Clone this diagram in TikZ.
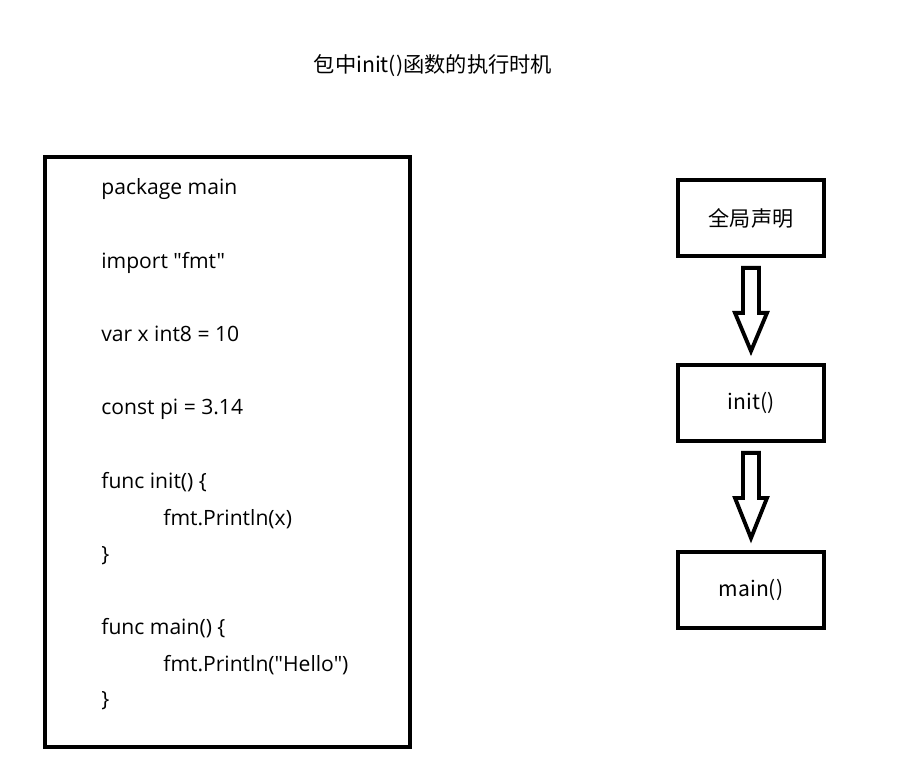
\documentclass[tikz,border=0pt]{standalone}
\usepackage{fontspec}
\setmainfont{Open Sans}[Ligatures=TeXOff]
\newfontfamily\cjk{Noto Sans CJK SC}[Ligatures=TeXOff]
\usetikzlibrary{calc}

\tikzset{
	box/.style={draw, line width=2.2pt, minimum width=2.92cm, minimum height=1.52cm, inner sep=0pt, font=\cjk\fontsize{12pt}{14pt}\selectfont},
	code/.style={anchor=west, inner sep=0pt, text height=1.5ex, text depth=0.4ex},
	blockarrow/.style={draw, line width=2.2pt, fill=white}
}

\begin{document}
\begin{tikzpicture}[font=\fontsize{12pt}{14pt}\selectfont]
	\useasboundingbox (0,0) rectangle (18.46,-15.36);

	\node[font=\cjk\fontsize{12.1pt}{14pt}\selectfont] (title) at (8.66,-1.32) {包中init()函数的执行时机};

	% source file
	\draw[line width=2.2pt] (0.9,-3.14) rectangle (8.2,-14.94);
	\node[code] (pkg) at (2.02,-3.78) {package main};
	\node[code] (imp) at (2.02,-5.26) {import "fmt"};
	\node[code] (var) at (2.02,-6.72) {var x int8 = 10};
	\node[code] (const) at (2.02,-8.18) {const pi = 3.14};
	\node[code] (initfn) at (2.02,-9.66) {func init() \{};
	\node[code] (initbody) at (3.26,-10.40) {fmt.Println(x)};
	\node[code] (initend) at (2.02,-11.12) {\}};
	\node[code] (mainfn) at (2.02,-12.58) {func main() \{};
	\node[code] (mainbody) at (3.26,-13.32) {fmt.Println("Hello")};
	\node[code] (mainend) at (2.02,-14.02) {\}};

	% order of execution
	\node[box] (decl) at (15.02,-4.36) {全局声明};
	\node[box] (init) at (15.02,-8.06) {init()};
	\node[box] (main) at (15.02,-11.80) {main()};

	\foreach \a/\b in {decl/init, init/main}
		\draw[blockarrow]
			($(\a.south)+(-0.16,-0.2)$) -- ($(\a.south)+(-0.16,-1.1)$)
			-- ($(\a.south)+(-0.32,-1.1)$) -- ($(\b.north)+(0,0.24)$)
			-- ($(\a.south)+(0.32,-1.1)$) -- ($(\a.south)+(0.16,-1.1)$)
			-- ($(\a.south)+(0.16,-0.2)$) -- cycle;

\end{tikzpicture}
\end{document}
